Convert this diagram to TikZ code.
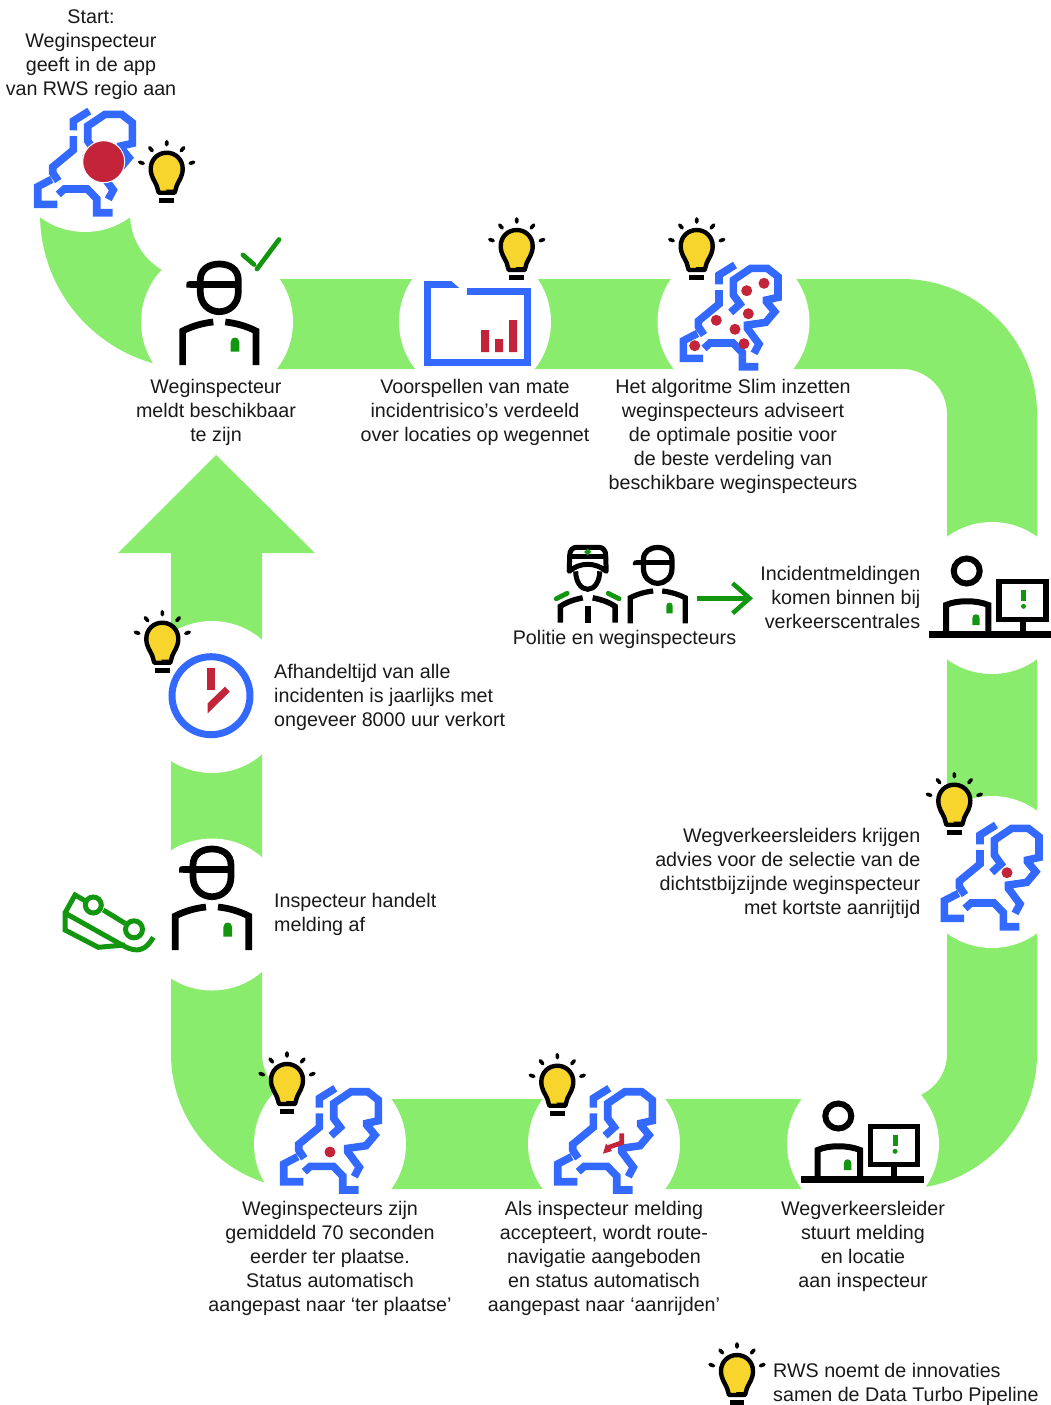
\documentclass[tikz,border=0pt]{standalone}
\usepackage{fontspec}
\setmainfont{Liberation Sans}
\usetikzlibrary{arrows.meta}
\definecolor{bandgreen}{HTML}{89EC6C}
\definecolor{darkgreen}{HTML}{12960F}
\definecolor{mapblue}{HTML}{3369FF}
\definecolor{dotred}{HTML}{C4243A}
\definecolor{lampyellow}{HTML}{F7D52C}
\tikzset{
  gat/.style={circle,fill=white,minimum size=152pt,inner sep=0pt},
  tekst/.style={font=\fontsize{19.7}{24}\selectfont,inner sep=0pt,text=black!90},
  iconline/.style={line width=6.7pt},
  reddot/.style={fill=dotred},
  lamp/.pic={
    \draw[line width=4.4pt,fill=lampyellow,line join=round] (-8,26) -- (-10,19) .. controls (-12,14) and (-16,10) .. (-16,2)
      .. controls (-16,-7) and (-9,-14) .. (0,-14) .. controls (9,-14) and (16,-7) .. (16,2)
      .. controls (16,10) and (12,14) .. (10,19) -- (8,26) -- cycle;
    \fill (-1,23) -- (7,23) -- (3,27) -- cycle;
    \fill (-7.3,31) rectangle (7.3,36);
    \draw[line width=3.6pt,line cap=round]
      (0,-25) -- (0,-22) (-17,-19) -- (-14.5,-16) (17,-19) -- (14.5,-16)
      (-27,-4.5) -- (-23.5,-3.3) (27,-4.5) -- (23.5,-3.3);
  },
  kaart/.pic={
    \draw[mapblue,line width=7.6pt]
      (4.3,-51.7) -- (-11.7,-41.7) -- (-11.7,-32.3)
      (-11.7,-26.7) -- (-11.7,-12.7) -- (-32.3,4.3) -- (-32.3,10) -- (-26.7,18.3)
      (-33.3,16.7) -- (-47.3,24) -- (-47.3,41.7) -- (-27.7,41.7)
      (-26.7,31.7) -- (-20.7,26.3) -- (2.3,26.3) -- (11.7,36) -- (11.7,50) -- (27.7,50)
      (23.3,36.7) -- (28.3,27.3) -- (16.7,11.7) -- (16.7,8.3) -- (35,5.7) -- (44,-5) -- (35.7,-15) -- (35.7,-16.7)
        -- (47.3,-19.3) -- (47.3,-40) -- (36.7,-48.3) -- (20,-48.3) -- (2.7,-36.7) -- (2.7,-21.7) -- (9.3,-12.7) -- (0,-4.3);
  },
  inspecteur/.pic={
    \draw[iconline] (-19,-30) .. controls (-19,-41) and (-10,-46) .. (0,-46) .. controls (10,-46) and (19,-41) .. (19,-30)
      -- (19,-18) .. controls (19,-6) and (10,1.7) .. (0,1.7) .. controls (-10,1.7) and (-19,-6) .. (-19,-18) -- cycle;
    \draw[iconline] (-29,-25.7) -- (19,-25.7);
    \fill (-33,-25.7) .. controls (-33,-29) and (-30,-29) .. (-28,-29) -- (-28,-22.4) -- (-33,-22.4) -- cycle;
    \draw[iconline] (-36.7,55) -- (-36.7,21) .. controls (-27,16) and (-16,13) .. (-6,12);
    \draw[iconline] (36.7,55) -- (36.7,21) .. controls (27,16) and (16,13) .. (6,12);
    \fill[darkgreen] (11.4,41.7) -- (11.4,32) .. controls (11.4,26) and (20,26) .. (20,32) -- (20,41.7) -- cycle;
  },
  politie/.pic={
    \draw[line width=5pt,line join=round] (-18.5,-2) -- (-18,-18) .. controls (-18,-23) and (-15,-26) .. (-11,-26) -- (11,-26)
      .. controls (15,-26) and (18,-23) .. (18,-18) -- (18.5,-2) .. controls (8,-11.3) and (-8,-11.3) .. (-18.5,-2) -- cycle;
    \draw[line width=4.6pt] (-18,-17) -- (18,-17);
    \fill[darkgreen] (0,-25) -- (3.6,-21.4) -- (0,-17.8) -- (-3.6,-21.4) -- cycle;
    \draw[line width=5pt] (-12,-2) .. controls (-12,8) and (-7,16) .. (0,16) .. controls (7,16) and (12,8) .. (12,-2);
    \draw[line width=5.5pt] (-27.3,49.3) -- (-27.3,33) .. controls (-20,28) and (-12,26) .. (-5,24.5);
    \draw[line width=5.5pt] (27.3,49.3) -- (27.3,33) .. controls (20,28) and (12,26) .. (5,24.5);
    \fill (-3,32.7) rectangle (3.7,49.3);
    \draw[darkgreen,line width=4.8pt,line cap=round] (-31.5,25.5) -- (-20.5,20) (20.5,20) -- (31.5,25.5);
  },
  centrale/.pic={
    \draw[line width=6pt] (0,0) ellipse [x radius=13,y radius=12.5];
    \draw[line width=6pt] (-20.7,60) -- (-20.7,34) .. controls (-10,29) and (10,29) .. (21.7,34) -- (21.7,60);
    \draw[line width=7pt] (-37.3,63) -- (85.7,63);
    \draw[line width=5.4pt] (32.3,10.3) rectangle (79.3,48.3);
    \draw[line width=5.7pt] (56,48.3) -- (56,60);
    \fill[darkgreen] (5.6,54) -- (5.6,47) .. controls (5.6,42) and (13,42) .. (13,47) -- (13,54) -- cycle;
    \fill[darkgreen] (54.3,19) rectangle (59.3,30);
    \fill[darkgreen] (56.8,35.3) circle [radius=2.5];
  }
}
\begin{document}
\begin{tikzpicture}[x=1pt,y=-1pt]
  \useasboundingbox (0,0) rectangle (1051,1405);
  % groene band
  \fill[bandgreen] (40,214) .. controls (40,299.6) and (109.4,369) .. (195,369) -- (902,369)
    .. controls (926.9,369) and (947,389.1) .. (947,414) -- (947,1054)
    .. controls (947,1078.9) and (926.9,1099) .. (902,1099) -- (307,1099)
    .. controls (282.1,1099) and (262,1078.9) .. (262,1054) -- (262,553) -- (315,553) -- (216,455) -- (118,553) -- (171,553) -- (171,1054)
    .. controls (171,1128.6) and (231.4,1189) .. (306,1189) -- (902,1189)
    .. controls (976.6,1189) and (1037,1128.6) .. (1037,1054) -- (1037,414)
    .. controls (1037,339.4) and (976.6,279) .. (902,279) -- (195,279)
    .. controls (159.1,279) and (130,249.9) .. (130,214) -- cycle;
  \node[gat] (c0) at (85,156) {};
  \node[gat] (c1) at (217,322) {};
  \node[gat] (c2) at (475,322) {};
  \node[gat] (c3) at (733.5,322) {};
  \node[gat] (c4) at (992,598) {};
  \node[gat] (c5) at (992,872) {};
  \node[gat] (c6) at (863,1144) {};
  \node[gat] (c7) at (604,1144) {};
  \node[gat] (c8) at (330,1144) {};
  \node[gat] (c9) at (212,914.5) {};
  \node[gat] (c10) at (212,697) {};
  % kaarten
  \pic at (85,162.7) {kaart};
  \pic at (730.7,316.7) {kaart};
  \pic at (991.7,876.7) {kaart};
  \pic at (605,1140) {kaart};
  \pic at (331,1140) {kaart};
  \draw[white,reddot,line width=1pt] (103.7,161.7) circle [radius=21];
  \foreach \x/\y in {746.7/290.7,764/283.3,748.3/313.7,716.3/320.3,735/329.3,744/343.7,694.7/345.7,1007/872.7,330/1152}
    \fill[reddot] (\x,\y) circle [radius=5.5];
  \draw[dotred,line width=4.6pt] (621.7,1133.3) -- (621.7,1142.7) -- (608,1147.5);
  \fill[dotred] (603,1153.7) -- (606,1143.5) -- (612,1151) -- cycle;
  % poppetjes
  \pic at (219.3,310) {inspecteur};
  \pic at (212,895) {inspecteur};
  \pic[scale=.75,iconline/.style={line width=5.2pt}] at (657.7,582) {inspecteur};
  \pic at (587.7,573.3) {politie};
  \pic at (838.3,1116) {centrale};
  \pic at (966.7,571) {centrale};
  % vinkje
  \draw[darkgreen,line width=4.7pt,line cap=round] (243,255) -- (254,264.5) (257,269) -- (279,239.5);
  % map met grafiek
  \draw[mapblue,line width=7pt] (466.7,291.7) -- (527.3,291.7) -- (527.3,362.7) -- (427.3,362.7) -- (427.3,284.3) -- (451,284.3);
  \fill[mapblue] (451,280.8) -- (451,287.8) -- (459,287.8) -- cycle;
  \fill[dotred] (481,330) rectangle (489,352) (495,339) rectangle (503,352) (509,320) rectangle (517,352);
  % klok
  \draw[mapblue,line width=7pt] (211,695.7) circle [radius=39];
  \fill[dotred] (207,668) rectangle (215,690);
  \fill[dotred] (207.7,703.3) -- (225,686.7) -- (229.7,691.7) -- (207.7,713.3) -- cycle;
  % auto
  \draw[darkgreen,line width=5pt] (65,913) -- (75,895) -- (85,900.7) (103.3,910) -- (125,923.3);
  \draw[darkgreen,line width=5pt] (93.3,905) circle [radius=8] (134,929.3) circle [radius=8.5];
  \draw[darkgreen,line width=5pt] (65,913) -- (125,946.7) .. controls (138,953) and (146,950) .. (153.3,937.3);
  \draw[darkgreen,line width=5pt] (65,911) -- (65,930) -- (98.3,947.3) -- (125,945);
  % lampjes
  \pic at (166.7,166.7) {lamp};
  \pic at (516.7,244) {lamp};
  \pic at (696.7,244) {lamp};
  \pic at (954.3,798.7) {lamp};
  \pic at (162.3,636.7) {lamp};
  \pic at (557.3,1079.7) {lamp};
  \pic at (287,1078) {lamp};
  \pic at (737,1369) {lamp};
  % teksten
  \node[tekst,align=center] (start) at (91,55) {Start:\\Weginspecteur\\geeft in de app\\van RWS regio aan};
  \node[tekst,align=center] (meldt) at (216,412) {Weginspecteur\\meldt beschikbaar\\te zijn};
  \node[tekst,align=center] (voorspel) at (475,412) {Voorspellen van mate\\incidentrisico’s verdeeld\\over locaties op wegennet};
  \node[tekst,align=center] (algoritme) at (733,436) {Het algoritme Slim inzetten\\weginspecteurs adviseert\\de optimale positie voor\\de beste verdeling van\\beschikbare weginspecteurs};
  \node[tekst] (politielabel) at (624.5,639) {Politie en weginspecteurs};
  \node[tekst,align=right,anchor=east] (incident) at (920.5,597) {Incidentmeldingen\\komen binnen bij\\verkeerscentrales};
  \node[tekst,align=left,anchor=west] (afhandel) at (274,697) {Afhandeltijd van alle\\incidenten is jaarlijks met\\ongeveer 8000 uur verkort};
  \node[tekst,align=left,anchor=west] (handelt) at (274,914) {Inspecteur handelt\\melding af};
  \node[tekst,align=right,anchor=east] (advies) at (920.5,873) {Wegverkeersleiders krijgen\\advies voor de selectie van de\\dichtstbijzijnde weginspecteur\\met kortste aanrijtijd};
  \node[tekst,align=center] (plaatse) at (330,1258) {Weginspecteurs zijn\\gemiddeld 70 seconden\\eerder ter plaatse.\\Status automatisch\\aangepast naar ‘ter plaatse’};
  \node[tekst,align=center] (route) at (604,1258) {Als inspecteur melding\\accepteert, wordt route-\\navigatie aangeboden\\en status automatisch\\aangepast naar ‘aanrijden’};
  \node[tekst,align=center] (leider) at (863,1246) {Wegverkeersleider\\stuurt melding\\en locatie\\aan inspecteur};
  \node[tekst,align=left,anchor=west] (legenda) at (773,1384) {RWS noemt de innovaties\\samen de Data Turbo Pipeline};
  % pijl
  \coordinate (pijlvan) at (696.7,598.3);
  \coordinate (pijlnaar) at (753,598.3);
  \draw[darkgreen,line width=4.5pt,-{Straight Barb[length=17pt,width=30pt,line width=4.5pt]}] (pijlvan) -- (pijlnaar);
\end{tikzpicture}
\end{document}
